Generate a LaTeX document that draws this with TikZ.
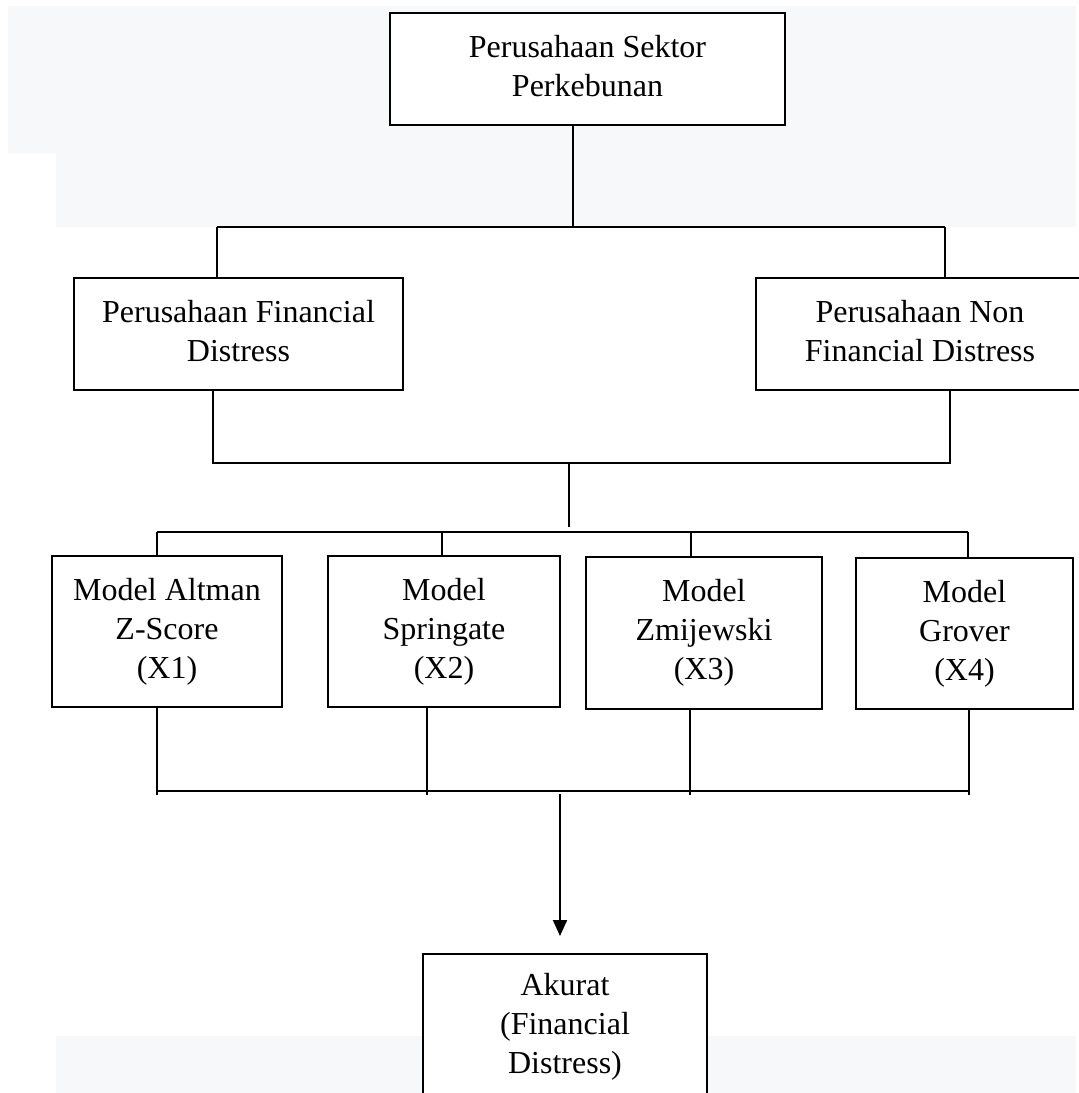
\documentclass[tikz,border=0pt]{standalone}
\usepackage{fontspec}
\setmainfont{Liberation Serif}
\usetikzlibrary{arrows.meta,calc}
\definecolor{bggray}{HTML}{F7F8FA}
\newcommand{\boxtext}[1]{\raisebox{6pt}{\begin{tabular}{@{}c@{}}#1\end{tabular}}}
\begin{document}
\begin{tikzpicture}[x=1pt,y=-1pt,
  box/.style={draw=black,line width=2pt,fill=white,rectangle,inner sep=0pt,
    font=\fontsize{32}{39}\selectfont},
  conn/.style={draw=black,line width=1.5pt},
  arr/.style={draw=black,line width=2pt,-{Triangle[width=14pt,length=16pt]}}]
\clip (0,0) rectangle (1079,1093);
\fill[white] (0,0) rectangle (1079,1093);
% light background regions
\fill[bggray] (8,6) -- (1076,6) -- (1076,227) -- (56,227) -- (56,153) -- (8,153) -- cycle;
\fill[bggray] (56,1036) rectangle (1076,1093);
% boxes
\node[box,minimum width=395pt,minimum height=112pt] (top) at (587.5,69) {\boxtext{Perusahaan Sektor\\Perkebunan}};
\node[box,minimum width=329pt,minimum height=112pt] (left) at (238.5,334) {\boxtext{Perusahaan Financial\\Distress}};
\node[box,minimum width=328pt,minimum height=112pt] (right) at (920,334) {\boxtext{Perusahaan Non\\Financial Distress}};
\node[box,minimum width=230pt,minimum height=151pt] (m1) at (167,631.5) {\boxtext{Model Altman\\Z-Score\\(X1)}};
\node[box,minimum width=232pt,minimum height=151pt] (m2) at (444,631.5) {\boxtext{Model\\Springate\\(X2)}};
\node[box,minimum width=236pt,minimum height=152pt] (m3) at (704,633) {\boxtext{Model\\Zmijewski\\(X3)}};
\node[box,minimum width=217pt,minimum height=151pt] (m4) at (964.5,633.5) {\boxtext{Model\\Grover\\(X4)}};
\node[box,minimum width=284pt,minimum height=146pt] (ak) at (565,1027) {\boxtext{Akurat\\(Financial\\Distress)}};
% junction coordinates
\coordinate (aM) at (573,227);
\coordinate (aL) at (217,227);
\coordinate (aR) at (945,227);
\coordinate (bL) at (213,463);
\coordinate (bR) at (950,463);
\coordinate (bM) at (569,463);
\coordinate (bMe) at (569,527);
\coordinate (c1) at (157,532);
\coordinate (c2) at (442,532);
\coordinate (c3) at (691,532);
\coordinate (c4) at (968,532);
\coordinate (d1) at (157,795);
\coordinate (d2) at (427,795);
\coordinate (d3) at (690,795);
\coordinate (d4) at (969,795);
\coordinate (e1) at (157,791);
\coordinate (e4) at (969,791);
\coordinate (f) at (560,794);
% connectors level 1
\draw[conn] (top.south -| aM) -- (aM);
\draw[conn] (aL) -- (aR);
\draw[conn] (aL) -- (aL |- left.north);
\draw[conn] (aR) -- (aR |- right.north);
% level 2
\draw[conn] (left.south -| bL) -- (bL) -- (bR) -- (right.south -| bR);
\draw[conn] (bM) -- (bMe);
% level 3
\draw[conn] (c1) -- (c4);
\draw[conn] (c1) -- (c1 |- m1.north);
\draw[conn] (c2) -- (c2 |- m2.north);
\draw[conn] (c3) -- (c3 |- m3.north);
\draw[conn] (c4) -- (c4 |- m4.north);
% level 4
\draw[conn] (m1.south -| d1) -- (d1);
\draw[conn] (m2.south -| d2) -- (d2);
\draw[conn] (m3.south -| d3) -- (d3);
\draw[conn] (m4.south -| d4) -- (d4);
\draw[conn] (e1) -- (e4);
% arrow
\draw[arr] (f) -- ($(ak.north -| f)+(0,-17)$);
\end{tikzpicture}
\end{document}
